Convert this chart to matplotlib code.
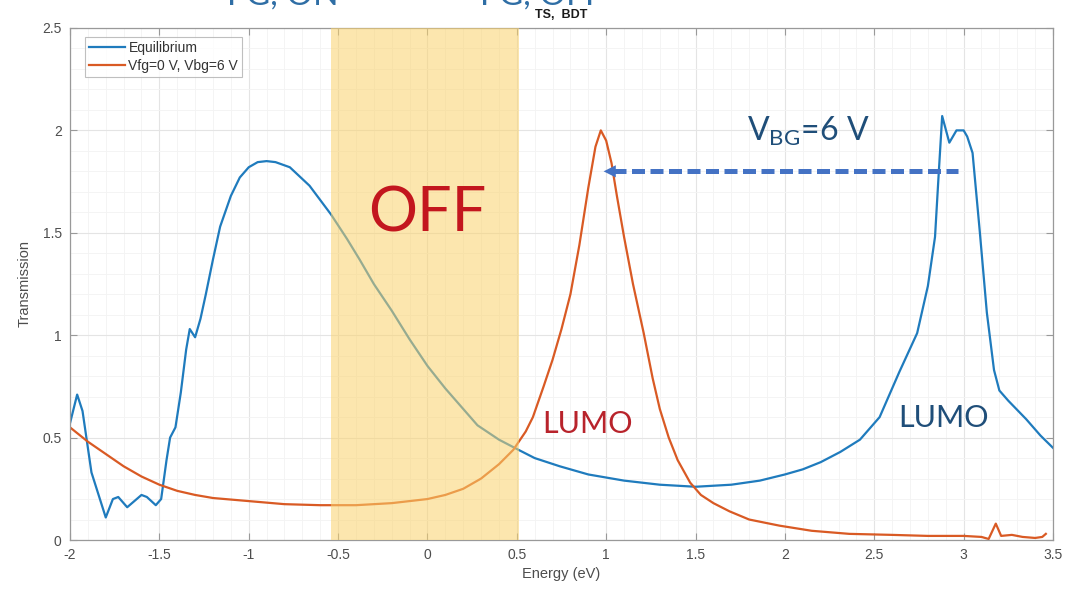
import numpy as np
import matplotlib
matplotlib.use("Agg")
import matplotlib.pyplot as plt
from matplotlib.ticker import MultipleLocator

# ===== data =====
eq_energy = [-2.00, -1.96, -1.93, -1.88, -1.80, -1.76, -1.73, -1.68, -1.60, -1.57,
             -1.52, -1.49, -1.46, -1.44, -1.41, -1.38, -1.35, -1.33, -1.30, -1.27,
             -1.24, -1.20, -1.16, -1.10, -1.05, -1.00, -0.95, -0.90, -0.85, -0.77,
             -0.66, -0.54, -0.45, -0.38, -0.30, -0.20, -0.10, 0.00, 0.10, 0.20,
             0.28, 0.40, 0.51, 0.60, 0.74, 0.90, 1.10, 1.30, 1.50, 1.70,
             1.86, 2.00, 2.10, 2.20, 2.31, 2.42, 2.53, 2.64, 2.74, 2.80,
             2.84, 2.86, 2.88, 2.92, 2.96, 3.00, 3.02, 3.05, 3.09, 3.13,
             3.17, 3.20, 3.25, 3.35, 3.43, 3.50]
eq_trans = [0.57, 0.71, 0.63, 0.33, 0.11, 0.20, 0.21, 0.16, 0.22, 0.21,
            0.17, 0.20, 0.39, 0.50, 0.55, 0.72, 0.93, 1.03, 0.99, 1.08,
            1.20, 1.37, 1.53, 1.68, 1.77, 1.82, 1.845, 1.85, 1.845, 1.82,
            1.73, 1.59, 1.47, 1.37, 1.25, 1.12, 0.98, 0.85, 0.74, 0.64,
            0.56, 0.49, 0.44, 0.40, 0.36, 0.32, 0.29, 0.27, 0.26, 0.27,
            0.29, 0.32, 0.345, 0.38, 0.43, 0.49, 0.60, 0.82, 1.01, 1.24,
            1.48, 1.78, 2.07, 1.94, 2.00, 2.00, 1.97, 1.89, 1.51, 1.11,
            0.83, 0.73, 0.68, 0.59, 0.51, 0.45]

bg_energy = [-2.00, -1.90, -1.80, -1.70, -1.60, -1.50, -1.40, -1.30, -1.20, -1.00,
             -0.80, -0.60, -0.40, -0.20, 0.00, 0.10, 0.20, 0.30, 0.40, 0.48,
             0.55, 0.59, 0.65, 0.70, 0.75, 0.80, 0.85, 0.90, 0.94, 0.97,
             1.00, 1.03, 1.06, 1.10, 1.15, 1.21, 1.26, 1.30, 1.35, 1.40,
             1.47, 1.53, 1.60, 1.69, 1.80, 1.97, 2.15, 2.36, 2.60, 2.80,
             3.00, 3.10, 3.14, 3.18, 3.21, 3.27, 3.33, 3.40, 3.44, 3.46]
bg_trans = [0.55, 0.48, 0.42, 0.36, 0.31, 0.27, 0.24, 0.22, 0.205, 0.19,
            0.175, 0.17, 0.17, 0.18, 0.20, 0.22, 0.25, 0.30, 0.37, 0.44,
            0.53, 0.60, 0.75, 0.88, 1.03, 1.20, 1.44, 1.72, 1.92, 2.00,
            1.95, 1.84, 1.68, 1.48, 1.25, 1.01, 0.79, 0.64, 0.50, 0.39,
            0.28, 0.22, 0.18, 0.14, 0.10, 0.07, 0.045, 0.03, 0.025, 0.02,
            0.02, 0.015, 0.005, 0.08, 0.02, 0.025, 0.015, 0.01, 0.015, 0.03]

series_labels = ["Equilibrium", "Vfg=0 V, Vbg=6 V"]

off_window = (-0.54, 0.51)      # shaded OFF region (eV)
arrow_y = 1.80
arrow_from = 2.97
arrow_to = 0.97

BLUE = "#1f7bbd"
ORANGE = "#d95a24"

# ===== figure =====
fig = plt.figure(figsize=(10.77, 5.94), dpi=100)
ax = fig.add_axes([0.065, 0.0909, 0.9127, 0.862])

ax.plot(eq_energy, eq_trans, color=BLUE, lw=1.6, label=series_labels[0], zorder=2)
ax.plot(bg_energy, bg_trans, color=ORANGE, lw=1.6, label=series_labels[1], zorder=2)

# yellow band sits over the lines (lines look tinted inside it)
ax.axvspan(*off_window, facecolor="#fbd36c", alpha=0.55, lw=0, zorder=3)

ax.set_xlim(-2, 3.5)
ax.set_ylim(0, 2.5)
ax.xaxis.set_minor_locator(MultipleLocator(0.1))
ax.yaxis.set_minor_locator(MultipleLocator(0.1))
ax.set_xticks(np.arange(-2, 3.51, 0.5))
ax.set_xticklabels(["-2", "-1.5", "-1", "-0.5", "0", "0.5", "1", "1.5", "2",
                    "2.5", "3", "3.5"])
ax.set_yticks(np.arange(0, 2.51, 0.5))
ax.set_yticklabels(["0", "0.5", "1", "1.5", "2", "2.5"])

ax.grid(which="major", color="#e4e4e4", lw=0.8, zorder=0)
ax.grid(which="minor", color="#f3f3f3", lw=0.6, zorder=0)
ax.set_axisbelow(True)

ax.tick_params(which="major", direction="in", length=5, width=0.8, top=True, right=True,
               colors="#999999", labelcolor="#4d4d4d", labelsize=10, pad=6)
ax.tick_params(which="minor", length=0, top=True, right=True)
for lbl in ax.get_xticklabels() + ax.get_yticklabels():
    lbl.set_fontfamily("Liberation Sans")
for s in ax.spines.values():
    s.set_color("#999999")
    s.set_linewidth(0.9)

ax.set_xlabel("Energy (eV)", fontsize=10.5, color="#4d4d4d", family="Liberation Sans", labelpad=3)
ax.set_ylabel("Transmission", fontsize=10.5, color="#4d4d4d", family="Liberation Sans", labelpad=8)
ax.set_title("TS,  BDT", fontsize=9, fontweight="bold", family="Liberation Sans",
             color="#1a1a1a", pad=7)

leg = ax.legend(loc="upper left", bbox_to_anchor=(0.015, 0.983),
                prop={"family": "Liberation Sans", "size": 10},
                frameon=True, fancybox=False, edgecolor="#b0b0b0",
                handlelength=2.6, handletextpad=0.25, borderpad=0.3, labelspacing=0.3,
                borderaxespad=0)
leg.get_frame().set_linewidth(0.8)
for t in leg.get_texts():
    t.set_color("#333333")

# ===== annotations =====
plt.rcParams["mathtext.fontset"] = "custom"
plt.rcParams["mathtext.rm"] = "Lato"

ax.text(0.0, 1.59, "OFF", fontsize=44, color="#c3161e", family="Lato",
        ha="center", va="center", zorder=5)
ax.text(0.893, 0.566, "LUMO", fontsize=22, color="#b8232b", family="Lato",
        ha="center", va="center", zorder=5)
ax.text(2.885, 0.596, "LUMO", fontsize=22, color="#1f4e79", family="Lato",
        ha="center", va="center", zorder=5)
ax.text(1.79, 1.95, r"V$_{\mathregular{BG}}$=6 V", fontsize=23, color="#1f4e79",
        family="Lato", ha="left", va="baseline", zorder=5)

ax.plot([arrow_to + 0.07, arrow_from], [arrow_y, arrow_y], color="#4472c4", lw=3.6,
        ls=(0, (2.6, 1.1)), solid_capstyle="butt", dash_capstyle="butt", zorder=4)
ax.annotate("", xy=(arrow_to, arrow_y), xytext=(arrow_to + 0.09, arrow_y),
            arrowprops=dict(arrowstyle="-|>", mutation_scale=22, color="#4472c4", lw=0),
            zorder=4)

# heading text cut off at the very top of the screenshot
fig.text(0.211, 0.9925, "FG, ON", fontsize=24, color="#2f6ea5", family="Lato",
         ha="left", va="baseline")
fig.text(0.446, 0.9925, "FG, OFF", fontsize=24, color="#2f6ea5", family="Lato",
         ha="left", va="baseline")

fig.savefig("out.png", dpi=100)
